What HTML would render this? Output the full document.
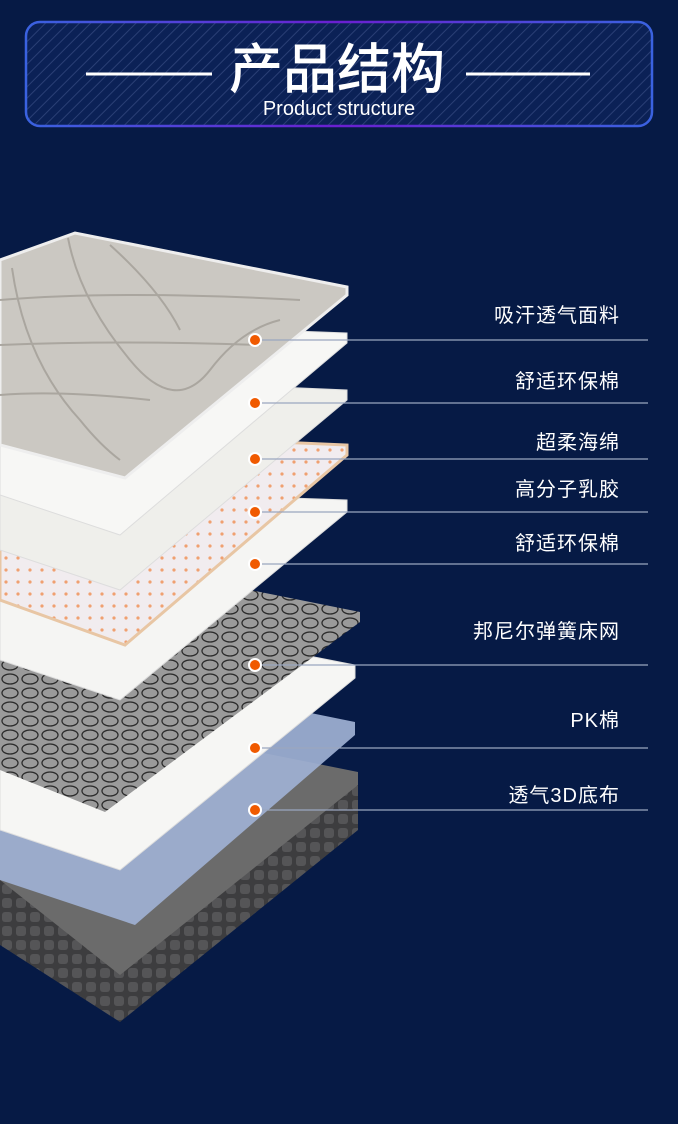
<!DOCTYPE html>
<html><head><meta charset="utf-8"><style>
html,body{margin:0;padding:0;background:#061a45;}
body{width:678px;height:1124px;position:relative;overflow:hidden;font-family:"Liberation Sans","Noto Sans CJK SC",sans-serif;}
.lbl{position:absolute;right:58px;color:#fff;font-size:20px;letter-spacing:1px;white-space:nowrap;}
</style></head><body>
<svg width="678" height="1124" style="position:absolute;left:0;top:0">
<defs>
<pattern id="hatch" width="8" height="8" patternUnits="userSpaceOnUse" patternTransform="rotate(45)"><rect width="8" height="8" fill="#0b2156"/><line x1="0" y1="0" x2="0" y2="8" stroke="#2a3f75" stroke-width="2"/></pattern>
<linearGradient id="bd" x1="0" x2="1"><stop offset="0" stop-color="#3a62e0"/><stop offset="0.5" stop-color="#6a1fd0"/><stop offset="1" stop-color="#3a62e0"/></linearGradient>
<pattern id="dots" width="12" height="12" patternUnits="userSpaceOnUse"><rect width="12" height="12" fill="#f1ecef"/><circle cx="6" cy="6" r="1.6" fill="#f0a070"/></pattern>
<pattern id="spr" width="20" height="14" patternUnits="userSpaceOnUse"><rect width="20" height="14" fill="#9a9a9a"/><ellipse cx="10" cy="7" rx="8" ry="5" fill="none" stroke="#2a2a2a" stroke-width="1.3"/></pattern>
<pattern id="knit" width="14" height="14" patternUnits="userSpaceOnUse"><rect width="14" height="14" fill="#3d3d3f"/><rect x="2" y="2" width="10" height="10" rx="3" fill="#555557"/></pattern>
</defs>
<rect x="26" y="22" width="626" height="104" rx="14" fill="url(#hatch)" stroke="url(#bd)" stroke-width="2.5"/>
<line x1="86" y1="74" x2="212" y2="74" stroke="#fff" stroke-width="3"/>
<line x1="466" y1="74" x2="590" y2="74" stroke="#fff" stroke-width="3"/>
<text x="337" y="88" text-anchor="middle" fill="#fff" font-size="54" font-weight="500" font-family="'Noto Sans CJK SC',sans-serif">产品结构</text>
<text x="339" y="115" text-anchor="middle" fill="#fff" font-size="20" font-family="'Liberation Sans',sans-serif">Product structure</text>

<!-- base mattress -->
<polygon points="0,870 120,965 358,780 358,830 120,1022 0,945" fill="url(#knit)"/>
<polygon points="0,700 358,772 358,785 120,975 0,880" fill="#6b6b6b"/>
<!-- 3D -->
<polygon points="0,650 355,722 355,735 135,925 0,880" fill="#9fb1d4" opacity="0.92"/>
<!-- PK -->
<polygon points="0,595 355,665 355,678 120,870 0,830" fill="#f6f6f4" stroke="#ddd"/>
<!-- spring -->
<polygon points="0,540 360,612 360,622 105,812 0,770" fill="url(#spr)"/>
<!-- comfort foam 2 -->
<polygon points="0,488 347,500 347,512 120,700 0,660" fill="#f5f5f3" stroke="#ddd"/>
<!-- latex -->
<polygon points="0,430 347,445 347,455 125,645 0,600" fill="url(#dots)" stroke="#e8c6a4" stroke-width="3"/>
<!-- ultra soft -->
<polygon points="0,375 347,390 347,400 120,590 0,550" fill="#efefeb" stroke="#ddd"/>
<!-- comfort foam 1 -->
<polygon points="0,320 347,333 347,343 120,535 0,495" fill="#f7f7f5" stroke="#ddd"/>
<!-- top -->
<polygon points="0,260 75,233 347,287 347,295 125,478 0,445" fill="#cbc8c2" stroke="#eee" stroke-width="3"/>
<g fill="none" stroke="#aaa69f" stroke-width="2">
<path d="M68,238 Q80,300 130,360 Q175,415 210,370 Q240,330 280,320"/>
<path d="M12,268 Q25,360 80,420 Q100,445 120,460"/>
<path d="M0,300 Q120,290 300,300"/>
<path d="M0,345 Q120,340 260,345"/>
<path d="M0,395 Q60,390 150,400"/>
<path d="M110,245 Q160,290 180,330"/>
</g>

<g stroke="#9aa6bf" stroke-width="1.3">
<line x1="262" y1="340" x2="648" y2="340"/><line x1="262" y1="403" x2="648" y2="403"/>
<line x1="262" y1="459" x2="648" y2="459"/><line x1="262" y1="512" x2="648" y2="512"/>
<line x1="262" y1="564" x2="648" y2="564"/><line x1="262" y1="665" x2="648" y2="665"/>
<line x1="262" y1="748" x2="648" y2="748"/><line x1="262" y1="810" x2="648" y2="810"/>
</g>
<g fill="#f05a00" stroke="#fff" stroke-width="2">
<circle cx="255" cy="340" r="6"/><circle cx="255" cy="403" r="6"/><circle cx="255" cy="459" r="6"/><circle cx="255" cy="512" r="6"/>
<circle cx="255" cy="564" r="6"/><circle cx="255" cy="665" r="6"/><circle cx="255" cy="748" r="6"/><circle cx="255" cy="810" r="6"/>
</g>
</svg>
<div class="lbl" style="top:299px">吸汗透气面料</div>
<div class="lbl" style="top:365px">舒适环保棉</div>
<div class="lbl" style="top:426px">超柔海绵</div>
<div class="lbl" style="top:473px">高分子乳胶</div>
<div class="lbl" style="top:527px">舒适环保棉</div>
<div class="lbl" style="top:615px">邦尼尔弹簧床网</div>
<div class="lbl" style="top:704px">PK棉</div>
<div class="lbl" style="top:779px">透气3D底布</div>
</body></html>
